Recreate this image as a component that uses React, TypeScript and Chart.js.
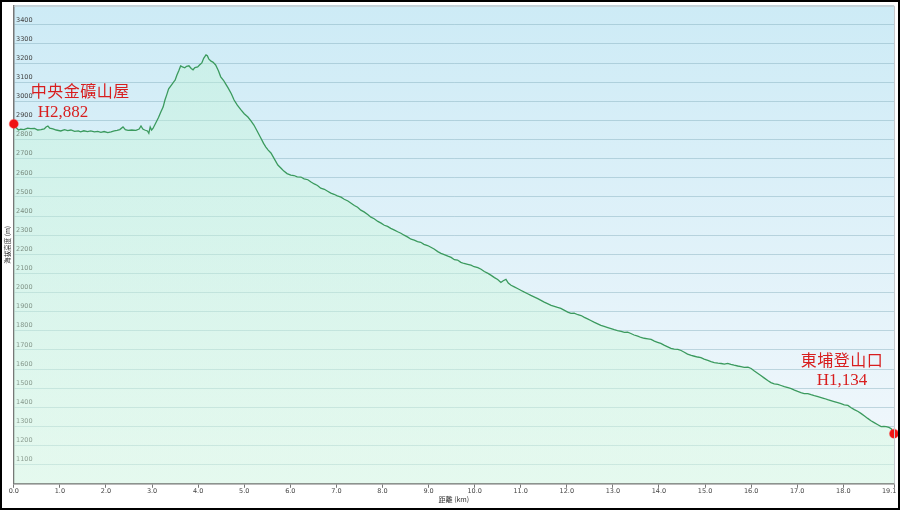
import React, { useEffect, useRef } from "react";
import { Chart, registerables } from "chart.js";

Chart.register(...registerables);

// Distance along the trail (km)
const distanceKm = [
  0.0, 0.05, 0.1, 0.15, 0.22, 0.3, 0.37, 0.45, 0.52, 0.59, 0.66, 0.7, 0.74, 0.78, 0.85, 0.92,
  1.02, 1.1, 1.17, 1.24, 1.32, 1.4, 1.45, 1.52, 1.6, 1.67, 1.75, 1.82, 1.89, 1.96, 2.04, 2.11,
  2.18, 2.24, 2.3, 2.37, 2.42, 2.48, 2.56, 2.65, 2.72, 2.76, 2.8, 2.84, 2.9, 2.93, 2.96, 2.99,
  3.02, 3.08, 3.14, 3.19, 3.24, 3.28, 3.32, 3.36, 3.42, 3.47, 3.5, 3.54, 3.58, 3.62, 3.66, 3.71,
  3.75, 3.8, 3.85, 3.89, 3.93, 3.99, 4.03, 4.08, 4.12, 4.17, 4.2, 4.23, 4.28, 4.32, 4.38, 4.44,
  4.49, 4.55, 4.6, 4.65, 4.72, 4.78, 4.85, 4.93, 5.0, 5.08, 5.15, 5.21, 5.28, 5.36, 5.42, 5.47,
  5.52, 5.58, 5.65, 5.73, 5.8, 5.86, 5.93, 6.01, 6.08, 6.15, 6.23, 6.3, 6.38, 6.45, 6.52, 6.59,
  6.66, 6.74, 6.81, 6.88, 6.95, 7.02, 7.1, 7.17, 7.25, 7.32, 7.39, 7.46, 7.53, 7.6, 7.68, 7.75,
  7.82, 7.9, 7.97, 8.04, 8.11, 8.18, 8.25, 8.33, 8.4, 8.47, 8.55, 8.62, 8.69, 8.76, 8.83, 8.9,
  8.98, 9.05, 9.12, 9.2, 9.27, 9.34, 9.42, 9.49, 9.56, 9.63, 9.7, 9.77, 9.85, 9.92, 9.99, 10.07,
  10.14, 10.21, 10.29, 10.36, 10.43, 10.5, 10.57, 10.62, 10.68, 10.73, 10.79, 10.86, 10.94, 11.01,
  11.08, 11.15, 11.22, 11.3, 11.37, 11.44, 11.51, 11.58, 11.66, 11.73, 11.8, 11.87, 11.94, 12.02,
  12.09, 12.16, 12.24, 12.31, 12.38, 12.45, 12.52, 12.6, 12.67, 12.74, 12.81, 12.89, 12.96, 13.03,
  13.1, 13.18, 13.25, 13.32, 13.39, 13.46, 13.54, 13.61, 13.68, 13.76, 13.83, 13.9, 13.97, 14.04,
  14.11, 14.19, 14.26, 14.33, 14.41, 14.48, 14.55, 14.62, 14.7, 14.77, 14.84, 14.91, 14.98, 15.06,
  15.13, 15.2, 15.28, 15.35, 15.42, 15.49, 15.56, 15.63, 15.71, 15.78, 15.85, 15.93, 16.0, 16.07,
  16.14, 16.21, 16.28, 16.36, 16.43, 16.5, 16.58, 16.65, 16.72, 16.8, 16.87, 16.94, 17.01, 17.08,
  17.15, 17.23, 17.3, 17.37, 17.45, 17.52, 17.59, 17.66, 17.73, 17.8, 17.88, 17.95, 18.02, 18.1,
  18.17, 18.24, 18.32, 18.39, 18.46, 18.53, 18.6, 18.67, 18.75, 18.82, 18.88, 18.93, 18.99, 19.04,
  19.07, 19.1,
];

// Elevation (m)
const elevationM = [
  2882, 2862, 2850, 2855, 2852, 2860, 2857, 2858, 2850, 2852, 2856, 2866, 2871, 2860, 2856, 2850,
  2845, 2852, 2847, 2850, 2843, 2845, 2840, 2846, 2842, 2845, 2840, 2843, 2838, 2842, 2836, 2840,
  2845, 2848, 2852, 2866, 2852, 2848, 2850, 2848, 2855, 2871, 2855, 2850, 2845, 2833, 2866, 2850,
  2858, 2887, 2915, 2944, 2970, 3007, 3035, 3065, 3085, 3102, 3110, 3138, 3160, 3185, 3180, 3175,
  3183, 3186, 3172, 3165, 3176, 3180, 3190, 3201, 3225, 3243, 3238, 3222, 3210, 3205, 3190, 3160,
  3128, 3110, 3090, 3070, 3040, 3007, 2980, 2955, 2935, 2918, 2897, 2876, 2845, 2808, 2780, 2761,
  2745, 2730, 2700, 2667, 2650, 2635, 2622, 2614, 2612, 2605, 2604, 2595, 2590, 2578, 2568, 2560,
  2546, 2540, 2530, 2520, 2514, 2506, 2499, 2488, 2479, 2467, 2455, 2446, 2431, 2422, 2408, 2394,
  2386, 2372, 2363, 2352, 2346, 2336, 2328, 2318, 2310, 2300, 2290, 2279, 2274, 2266, 2263, 2252,
  2246, 2237, 2228, 2214, 2205, 2198, 2190, 2184, 2172, 2170, 2158, 2152, 2147, 2143, 2135, 2130,
  2122, 2110, 2100, 2090, 2078, 2068, 2053, 2062, 2069, 2050, 2038, 2030, 2020, 2011,
  2002, 1994, 1985, 1976, 1968, 1959, 1950, 1942, 1933, 1928, 1922, 1917, 1908, 1898,
  1891, 1892, 1884, 1880, 1870, 1862, 1854, 1844, 1836, 1828, 1823, 1817, 1812, 1806,
  1801, 1797, 1792, 1793, 1786, 1778, 1772, 1765, 1761, 1758, 1755, 1746, 1740, 1734,
  1725, 1716, 1708, 1704, 1703, 1697, 1688, 1678, 1671, 1667, 1663, 1660, 1652, 1645,
  1639, 1634, 1631, 1629, 1626, 1630, 1624, 1620, 1616, 1613, 1609, 1610, 1603, 1590,
  1578, 1566, 1554, 1540, 1529, 1522, 1520, 1514, 1508, 1503, 1498, 1490, 1483, 1477,
  1472, 1472, 1466, 1461, 1456, 1451, 1446, 1440, 1435, 1430, 1424, 1419, 1413, 1410,
  1398, 1388, 1378, 1367, 1355, 1342, 1330, 1320, 1309, 1299, 1300, 1299, 1295, 1288,
  1275, 1262,
];

// Start / end markers
const markerKm = [0, 19.1];
const markerElev = [2882, 1262];
const startLabels = ["中央金礦山屋", "H2,882"];
const endLabels = ["東埔登山口", "H1,134"];

// Axis ticks
const xTickValues = [0, 1, 2, 3, 4, 5, 6, 7, 8, 9, 10, 11, 12, 13, 14, 15, 16, 17, 18, 19.1];
const yMin = 1000;
const yMax = 3500;
const yStep = 100;
const xTitle = "距離 (km)";
const yTitle = "海拔高度 (m)";

const decorPlugin = {
  id: "decor",
  beforeDraw(chart: any) {
    const { ctx, chartArea: a, width, height } = chart;
    ctx.save();
    ctx.fillStyle = "#ffffff";
    ctx.fillRect(0, 0, width, height);
    const g = ctx.createLinearGradient(0, a.top, 0, a.bottom);
    g.addColorStop(0, "#cdebf6");
    g.addColorStop(1, "#f3f8fc");
    ctx.fillStyle = g;
    ctx.fillRect(a.left, a.top, a.right - a.left, a.bottom - a.top);
    ctx.restore();
  },
  afterDraw(chart: any) {
    const { ctx, chartArea: a, width, height, scales } = chart;
    ctx.save();
    // plot frame (top/right)
    ctx.strokeStyle = "#c4c8cc";
    ctx.lineWidth = 1;
    ctx.beginPath();
    ctx.moveTo(a.left, a.top + 0.5);
    ctx.lineTo(a.right + 0.5, a.top + 0.5);
    ctx.lineTo(a.right + 0.5, a.bottom);
    ctx.stroke();

    // annotations
    const xs = scales.x;
    const ys = scales.y;
    const sx = xs.getPixelForValue(markerKm[0]);
    const sy = ys.getPixelForValue(markerElev[0]);
    const ex = xs.getPixelForValue(markerKm[1]);
    const ey = ys.getPixelForValue(markerElev[1]);
    ctx.fillStyle = "#d81e1e";
    ctx.textBaseline = "middle";
    ctx.font = '16px "Liberation Serif", "Noto Sans CJK TC"';
    (ctx as any).letterSpacing = "0.5px";
    ctx.textAlign = "left";
    ctx.fillText(startLabels[0], sx + 17, sy - 31);
    ctx.textAlign = "center";
    ctx.fillText(endLabels[0], ex - 52, ey - 72);
    (ctx as any).letterSpacing = "0px";
    ctx.font = '17px "Liberation Serif", "Noto Sans CJK TC"';
    ctx.textAlign = "left";
    ctx.fillText(startLabels[1], sx + 24, sy - 11);
    ctx.textAlign = "center";
    ctx.fillText(endLabels[1], ex - 52, ey - 53);

    // outer border
    ctx.strokeStyle = "#000000";
    ctx.lineWidth = 2;
    ctx.strokeRect(1, 1, width - 2, height - 2);
    ctx.restore();
  },
};

export default function App() {
  const canvasRef = useRef<HTMLCanvasElement | null>(null);

  useEffect(() => {
    document.body.style.margin = "0";
    const canvas = canvasRef.current;
    if (!canvas) return;
    const profile = distanceKm.map((d, i) => ({ x: d, y: elevationM[i] }));
    const markers = markerKm.map((d, i) => ({ x: d, y: markerElev[i] }));
    const lastX = xTickValues[xTickValues.length - 1];

    const chart = new Chart(canvas, {
      type: "line",
      data: {
        datasets: [
          {
            type: "scatter" as any,
            data: markers,
            order: 0,
            pointRadius: 4.5,
            pointBackgroundColor: "#f01414",
            pointBorderColor: "rgba(255,60,60,0.35)",
            pointBorderWidth: 1.2,
            clip: false as any,
          },
          {
            data: profile,
            order: 1,
            borderColor: "#3b9a5e",
            borderWidth: 1.3,
            pointRadius: 0,
            tension: 0,
            fill: "start",
            backgroundColor: (c: any) => {
              const area = c.chart.chartArea;
              if (!area) return "rgba(200,245,215,0.4)";
              const g = c.chart.ctx.createLinearGradient(0, area.top, 0, area.bottom);
              g.addColorStop(0, "rgba(190,245,210,0.35)");
              g.addColorStop(1, "rgba(215,250,225,0.5)");
              return g;
            },
          },
        ],
      },
      options: {
        animation: false,
        responsive: false,
        events: [],
        layout: { padding: { left: 2, top: 5, right: 6, bottom: 4 } },
        plugins: {
          legend: { display: false },
          tooltip: { enabled: false },
        },
        scales: {
          x: {
            type: "linear",
            min: 0,
            max: lastX,
            afterBuildTicks: (axis: any) => {
              axis.ticks = xTickValues.map((v) => ({ value: v }));
            },
            afterFit: (axis: any) => {
              axis.paddingRight = 0;
              axis.paddingLeft = 0;
            },
            ticks: {
              autoSkip: false,
              maxRotation: 0,
              padding: 0,
              color: "#444444",
              font: { family: '"DejaVu Sans"', size: 6.5 },
              callback: (v: any) =>
                Number(v) === lastX ? Number(v).toFixed(1) + "\u2002\u2002\u2002" : Number(v).toFixed(1),
            },
            grid: { drawOnChartArea: false, drawTicks: true, tickLength: 4, color: "#777777" },
            border: { display: true, color: "#777777", width: 1.5 },
            title: {
              display: true,
              text: xTitle,
              color: "#333333",
              font: { family: '"Noto Sans CJK TC"', size: 7 },
              padding: { top: 0, bottom: 2 },
            },
          },
          y: {
            type: "linear",
            min: yMin,
            max: yMax,
            ticks: {
              stepSize: yStep,
              mirror: true,
              padding: 1,
              labelOffset: -5,
              color: "#444444",
              font: { family: '"DejaVu Sans"', size: 6.5 },
              callback: (v: any) => (v === yMin || v === yMax ? "" : "\u2009" + String(v)),
            },
            grid: { drawTicks: false, tickLength: 0, color: "rgba(120,165,180,0.4)", lineWidth: 1 },
            border: { display: true, color: "#777777", width: 1.5 },
            title: {
              display: true,
              text: yTitle,
              color: "#333333",
              font: { family: '"Noto Sans CJK TC"', size: 6.5 },
              padding: { top: 2, bottom: 0 },
            },
          },
        },
      },
      plugins: [decorPlugin],
    });
    return () => chart.destroy();
  }, []);

  return (
    <div style={{ width: 900, height: 510 }}>
      <canvas ref={canvasRef} width={900} height={510} style={{ display: "block" }} />
    </div>
  );
}
